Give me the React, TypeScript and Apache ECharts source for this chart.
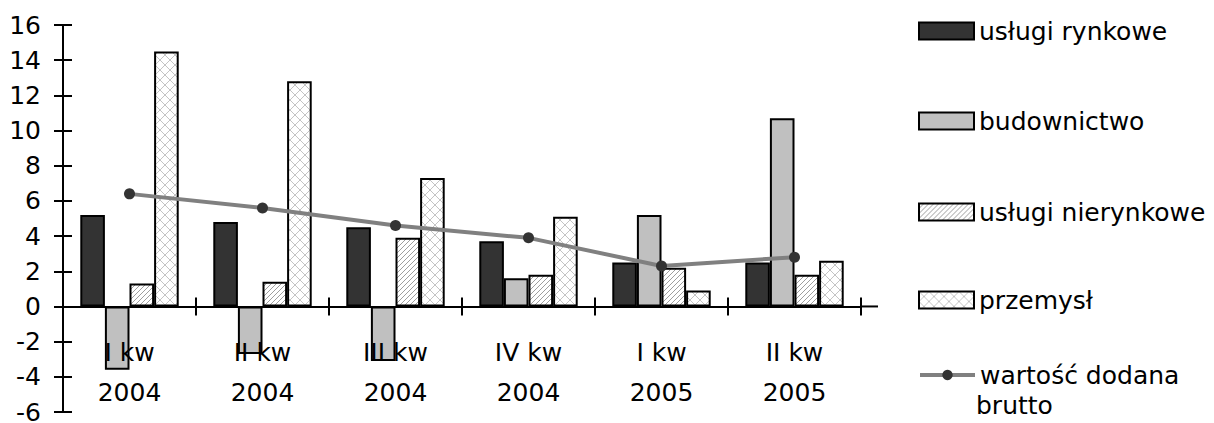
import React, { useEffect, useRef } from "react";
import * as echarts from "echarts";

const categories = ["I kw\n2004", "II kw\n2004", "III kw\n2004", "IV kw\n2004", "I kw\n2005", "II kw\n2005"];
const uslugiRynkowe = [5.2, 4.8, 4.5, 3.7, 2.5, 2.5];
const budownictwo = [-3.6, -2.7, -3.1, 1.6, 5.2, 10.7];
const uslugiNierynkowe = [1.3, 1.4, 3.9, 1.8, 2.2, 1.8];
const przemysl = [14.5, 12.8, 7.3, 5.1, 0.9, 2.6];
const wartoscDodana = [6.4, 5.6, 4.6, 3.9, 2.3, 2.8];
const seriesNames = ["usługi rynkowe", "budownictwo", "usługi nierynkowe", "przemysł", "wartość dodana"];
const extraLegendLine = "brutto";
const yMin = -6;
const yMax = 16;
const yStep = 2;

const FONT = "'DejaVu Sans', 'Liberation Sans', Arial, sans-serif";
const W = 1214;
const H = 423;
const GRID = { left: 63, right: 353, top: 25, bottom: 11 };

function makeHatch(): any {
  const s = 5;
  const c = document.createElement("canvas");
  c.width = s; c.height = s;
  const g = c.getContext("2d")!;
  g.fillStyle = "#ffffff"; g.fillRect(0, 0, s, s);
  g.strokeStyle = "#9e9e9e"; g.lineWidth = 1;
  g.beginPath();
  g.moveTo(0, s); g.lineTo(s, 0);
  g.moveTo(-1, 1); g.lineTo(1, -1);
  g.moveTo(s - 1, s + 1); g.lineTo(s + 1, s - 1);
  g.stroke();
  return { image: c.toDataURL(), repeat: "repeat", imageWidth: s, imageHeight: s };
}

function makeCross(): any {
  const s = 10;
  const c = document.createElement("canvas");
  c.width = s; c.height = s;
  const g = c.getContext("2d")!;
  g.fillStyle = "#ffffff"; g.fillRect(0, 0, s, s);
  g.strokeStyle = "#c4c4c4"; g.lineWidth = 1;
  g.beginPath();
  g.moveTo(0, 0); g.lineTo(s, s);
  g.moveTo(0, s); g.lineTo(s, 0);
  g.stroke();
  return { image: c.toDataURL(), repeat: "repeat", imageWidth: s, imageHeight: s };
}

export default function App() {
  const ref = useRef<HTMLDivElement>(null);
  useEffect(() => {
    if (!ref.current) return;
    const chart = echarts.init(ref.current, undefined, { renderer: "svg" });
    const hatch = makeHatch();
    const cross = makeCross();
    const gridH = H - GRID.top - GRID.bottom;
    const zeroPix = GRID.top + (gridH * yMax) / (yMax - yMin);
    const xOffset = zeroPix - (H - GRID.bottom);
    const barBase = { type: "bar", barGap: "0%", barCategoryGap: "26%", xAxisIndex: 0, yAxisIndex: 0 };
    const border = { borderColor: "#000", borderWidth: 2 };
    const legendCenters = [26, 116, 207, 295, 370];
    const LH = 26;
    const legendText = { fontSize: 25, fontFamily: FONT, color: "#000", lineHeight: LH };
    const legends = seriesNames.map((n, i) => ({
      show: true,
      data: [n],
      orient: "vertical",
      left: 913,
      top: legendCenters[i] - LH / 2,
      itemWidth: 55,
      itemHeight: i === 4 ? 13 : 17,
      icon: i === 4 ? undefined : "rect",
      selectedMode: false,
      textStyle: legendText,
      lineStyle: { width: 4, color: "#808080" },
    }));
    const yAxisCommon = {
      type: "value",
      min: yMin,
      max: yMax,
      interval: yStep,
      position: "left",
      splitLine: { show: false },
    };
    chart.setOption({
      animation: false,
      backgroundColor: "#fff",
      grid: { ...GRID, outerBoundsMode: "none" },
      legend: legends,
      xAxis: [
        {
          type: "category",
          data: categories,
          position: "bottom",
          offset: xOffset,
          z: 10,
          axisLine: { show: true, onZero: false, lineStyle: { color: "#000", width: 2 } },
          axisTick: { show: true, inside: false, length: 9, lineStyle: { color: "#000", width: 2 } },
          axisLabel: { fontSize: 25, fontFamily: FONT, color: "#000", lineHeight: 40, margin: 26, interval: 0 },
          splitLine: { show: false },
        },
        {
          type: "category",
          data: categories,
          position: "bottom",
          offset: xOffset,
          z: 10,
          axisLine: { show: false, onZero: false },
          axisTick: { show: true, inside: true, length: 9, lineStyle: { color: "#000", width: 2 } },
          axisLabel: { show: false },
          splitLine: { show: false },
        },
      ],
      yAxis: [
        {
          ...yAxisCommon,
          axisLine: { show: true, onZero: false, lineStyle: { color: "#000", width: 2 } },
          axisTick: { show: true, inside: false, length: 9, lineStyle: { color: "#000", width: 2 } },
          axisLabel: { fontSize: 25, fontFamily: FONT, color: "#000", margin: 22, lineHeight: 20 },
        },
        {
          ...yAxisCommon,
          axisLine: { show: false, onZero: false },
          axisTick: { show: true, inside: true, length: 9, lineStyle: { color: "#000", width: 2 } },
          axisLabel: { show: false },
        },
      ],
      series: [
        { ...barBase, name: seriesNames[0], data: uslugiRynkowe, itemStyle: { color: "#333333", ...border } },
        { ...barBase, name: seriesNames[1], data: budownictwo, itemStyle: { color: "#c0c0c0", ...border } },
        { ...barBase, name: seriesNames[2], data: uslugiNierynkowe, itemStyle: { color: hatch, ...border } },
        { ...barBase, name: seriesNames[3], data: przemysl, itemStyle: { color: cross, ...border } },
        {
          type: "line",
          name: seriesNames[4],
          data: wartoscDodana,
          xAxisIndex: 0,
          yAxisIndex: 0,
          z: 20,
          symbol: "circle",
          symbolSize: 11,
          lineStyle: { color: "#808080", width: 4 },
          itemStyle: { color: "#333333", borderWidth: 0 },
        },
      ],
    });
    const zeroY = chart.convertToPixel({ yAxisIndex: 0 }, 0) as number;
    chart.setOption({
      graphic: [
        {
          type: "line",
          shape: { x1: W - GRID.right, y1: zeroY, x2: W - GRID.right + 17, y2: zeroY },
          style: { stroke: "#000", lineWidth: 2 },
          z: 10,
        },
        {
          type: "text",
          x: 976,
          y: 405,
          style: {
            text: extraLegendLine,
            fontSize: 25,
            fontFamily: FONT,
            fill: "#000",
            lineHeight: 26,
            verticalAlign: "middle",
            align: "left",
          },
        },
      ],
    });
    return () => chart.dispose();
  }, []);
  return (
    <div
      ref={ref}
      style={{ position: "fixed", left: 0, top: 0, width: W, height: H, background: "#fff" }}
    />
  );
}
